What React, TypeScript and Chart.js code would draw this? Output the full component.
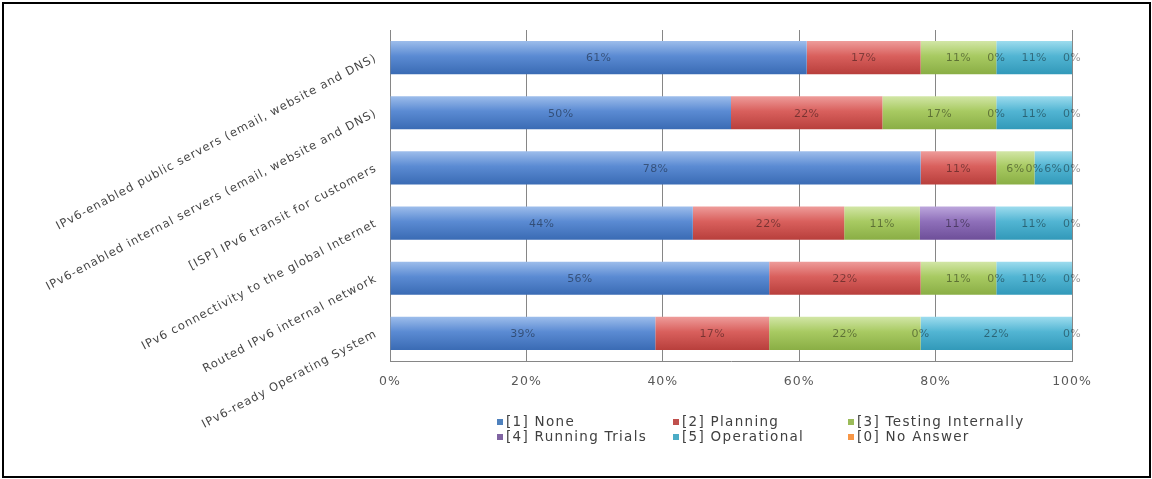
import React, { useEffect, useRef } from "react";
import { Chart, registerables } from "chart.js";

Chart.register(...registerables);

const categories = [
  "IPv6-enabled public servers (email, website and DNS)",
  "IPv6-enabled internal servers (email, website and DNS)",
  "[ISP] IPv6 transit for customers",
  "IPv6 connectivity to the global Internet",
  "Routed IPv6 internal network",
  "IPv6-ready Operating System",
];

const seriesNames = [
  "[1] None",
  "[2] Planning",
  "[3] Testing Internally",
  "[4] Running Trials",
  "[5] Operational",
  "[0] No Answer",
];

const noneValues = [61.1, 50.0, 77.8, 44.4, 55.6, 38.9];
const planningValues = [16.7, 22.2, 11.1, 22.2, 22.2, 16.7];
const testingValues = [11.1, 16.7, 5.6, 11.1, 11.1, 22.2];
const trialsValues = [0, 0, 0, 11.1, 0, 0];
const operationalValues = [11.1, 11.1, 5.5, 11.2, 11.1, 22.2];
const noAnswerValues = [0, 0, 0, 0, 0, 0];

const xTicks = [0, 20, 40, 60, 80, 100];

const baseColors = ["#4F81BD", "#C0504D", "#9BBB59", "#8064A2", "#4BACC6", "#F79646"];
const gradColors: [string, string, string][] = [
  ["#9DBDEB", "#5B8BD3", "#3A6BB4"],
  ["#EE9C9A", "#D9605D", "#B83F3C"],
  ["#D2E6A6", "#A8CA62", "#8AAE45"],
  ["#BCA6DC", "#8F70BA", "#6E4F99"],
  ["#9DDCEE", "#52B5D3", "#3299B9"],
  ["#FBC08E", "#F79646", "#D97B2E"],
];

const BAR_PCT = 0.6;
const FONT = "'DejaVu Sans', sans-serif";

function gradient(stops: [string, string, string]) {
  return (ctx: any) => {
    const chart = ctx.chart;
    const y = chart.scales && chart.scales.y;
    if (!y || ctx.type !== "data" || !isFinite(y.top)) return stops[1];
    const c = y.getPixelForValue(ctx.dataIndex);
    const n = chart.data.labels.length;
    const h = ((y.bottom - y.top) / n) * BAR_PCT;
    if (!isFinite(c) || !isFinite(h)) return stops[1];
    const g = chart.ctx.createLinearGradient(0, c - h / 2, 0, c + h / 2);
    g.addColorStop(0, stops[0]);
    g.addColorStop(0.45, stops[1]);
    g.addColorStop(1, stops[2]);
    return g;
  };
}

const spacingPlugin = {
  id: "spacing",
  beforeDraw(chart: any) {
    chart.ctx.letterSpacing = "1px";
  },
  afterDraw(chart: any) {
    chart.ctx.letterSpacing = "0px";
  },
};

const dataLabelPlugin = {
  id: "segLabels",
  afterDatasetsDraw(chart: any) {
    const ctx = chart.ctx;
    ctx.save();
    ctx.letterSpacing = "0.3px";
    ctx.font = `11px ${FONT}`;
    ctx.textAlign = "center";
    ctx.textBaseline = "middle";
    ctx.fillStyle = "rgba(0,0,0,0.42)";
    chart.data.datasets.forEach((ds: any, i: number) => {
      const meta = chart.getDatasetMeta(i);
      meta.data.forEach((el: any, j: number) => {
        const { x, base, y } = el.getProps(["x", "base", "y"], true);
        const v = ds.data[j];
        ctx.fillText(`${Math.round(v)}%`, (x + base) / 2, y + 1);
      });
    });
    ctx.restore();
  },
};

const gridLegendPlugin = {
  id: "gridLegend",
  afterDraw(chart: any) {
    const ctx = chart.ctx;
    const area = chart.chartArea;
    const colX = [107, 283, 458];
    const rowY = [61, 76];
    ctx.save();
    ctx.letterSpacing = "1.3px";
    ctx.font = `13.5px ${FONT}`;
    ctx.textBaseline = "middle";
    ctx.textAlign = "left";
    chart.data.datasets.forEach((ds: any, i: number) => {
      const col = i % 3;
      const row = Math.floor(i / 3);
      const x = area.left + colX[col];
      const y = area.bottom + rowY[row];
      ctx.fillStyle = baseColors[i];
      ctx.fillRect(x, y - 3, 6, 6);
      ctx.fillStyle = "#404040";
      ctx.fillText(ds.label, x + 9, y);
    });
    ctx.restore();
  },
};

export default function App() {
  const ref = useRef<HTMLCanvasElement | null>(null);

  useEffect(() => {
    if (!ref.current) return;
    const values = [noneValues, planningValues, testingValues, trialsValues, operationalValues, noAnswerValues];
    const chart = new Chart(ref.current, {
      type: "bar",
      data: {
        labels: categories,
        datasets: values.map((d, i) => ({
          label: seriesNames[i],
          data: d,
          backgroundColor: gradient(gradColors[i]),
          borderWidth: 0,
          barPercentage: BAR_PCT,
          categoryPercentage: 1,
        })),
      },
      options: {
        indexAxis: "y",
        responsive: false,
        animation: false,
        events: [],
        layout: { padding: { left: 0, top: 30, right: 80, bottom: 78 } },
        plugins: {
          legend: { display: false },
          tooltip: { enabled: false },
        },
        scales: {
          x: {
            stacked: true,
            min: 0,
            max: 100,
            afterBuildTicks: (scale: any) => {
              scale.ticks = xTicks.map((v) => ({ value: v }));
            },
            ticks: {
              callback: (v: any) => `${v}%`,
              color: "#595959",
              font: { family: FONT, size: 12.5 },
              padding: 13,
              maxRotation: 0,
            },
            grid: { color: "#868686", drawTicks: false, lineWidth: 1 },
            border: { display: true, color: "#868686" },
            afterFit: (scale: any) => {
              scale.height = 40;
            },
          },
          y: {
            stacked: true,
            ticks: {
              autoSkip: false,
              minRotation: 28,
              maxRotation: 28,
              color: "#454545",
              font: { family: FONT, size: 11.5 },
              padding: 14,
            },
            grid: { display: false, drawTicks: false },
            border: { display: true, color: "#868686" },
            afterFit: (scale: any) => {
              scale.width = 390;
            },
          },
        },
      },
      plugins: [spacingPlugin, dataLabelPlugin, gridLegendPlugin],
    });
    return () => chart.destroy();
  }, []);

  return (
    <div style={{ position: "fixed", left: 0, top: 0, width: 1152, height: 479, background: "#fff" }}>
      <canvas ref={ref} width={1152} height={479} style={{ position: "absolute", left: 0, top: 0 }} />
      <div
        style={{
          position: "absolute",
          left: 2,
          top: 2,
          width: 1149,
          height: 476,
          boxSizing: "border-box",
          border: "2px solid #000",
          pointerEvents: "none",
        }}
      />
    </div>
  );
}
